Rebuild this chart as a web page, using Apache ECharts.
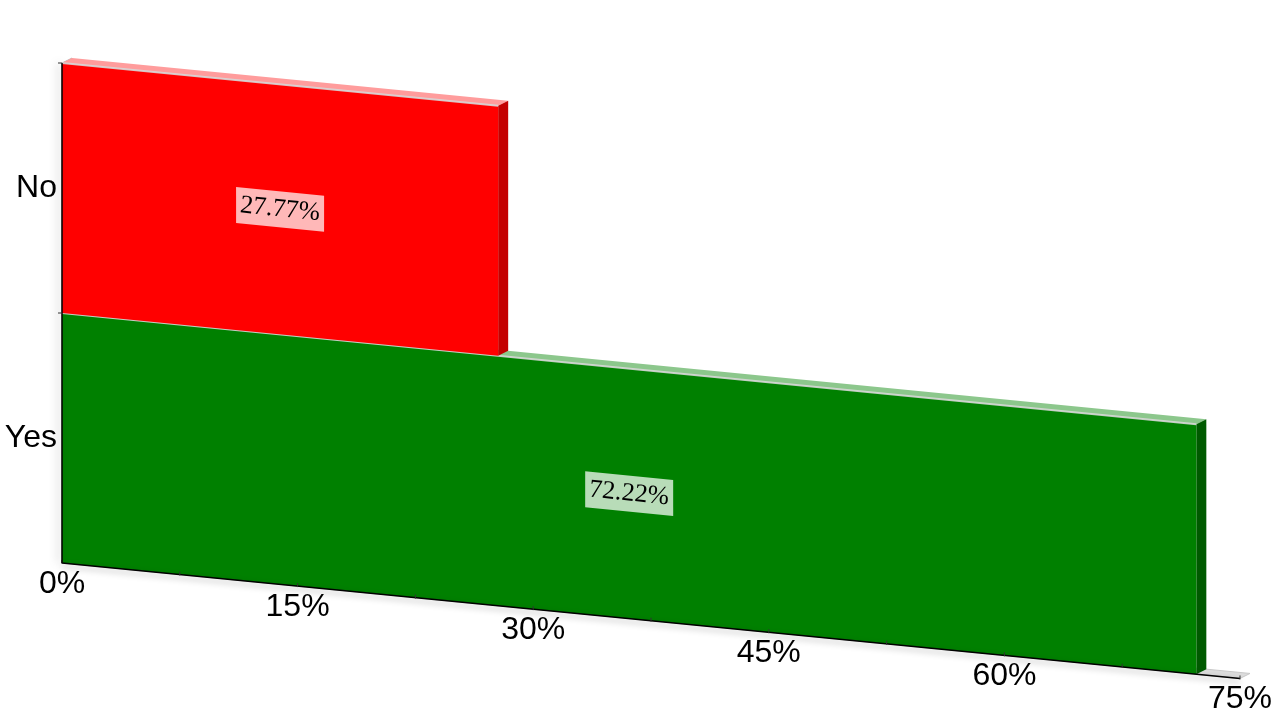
<!DOCTYPE html>
<html>
<head>
<meta charset="utf-8">
<script src="https://cdn.jsdelivr.net/npm/echarts@6/dist/echarts.min.js"></script>
<style>
html,body{margin:0;padding:0;background:#fff;}
#chart{width:1280px;height:720px;}
</style>
</head>
<body>
<div id="chart"></div>
<script>
// ---- data ----
const categories = ['Yes', 'No'];
const values = [72.22, 27.77];
const valueLabels = ['72.22%', '27.77%'];
const ticks = [0, 7.5, 15, 22.5, 30, 37.5, 45, 52.5, 60, 67.5, 75];
const tickLabels = ['0%', '', '15%', '', '30%', '', '45%', '', '60%', '', '75%'];

// ---- styles ----
const frontColors = ['#008000', '#ff0000'];
const sideColors = ['#005a00', '#c40000'];
const topColors = ['#8cc78c', '#ff9c9c'];
const K = 0.098;          // shear (perspective slope)
const DEPTH = [10, -5];    // 3D depth offset
const AXIS_MAX = 75;

function shearFn(X0) { return (x, y) => [x, y + (x - X0) * K]; }
function off(p) { return [p[0] + DEPTH[0], p[1] + DEPTH[1]]; }

function renderBar(params, api) {
  const i = params.dataIndex;
  const v = api.value(0), c = api.value(1);
  const cs = params.coordSys;
  const sh = shearFn(cs.x);
  const p0 = api.coord([0, c]);
  const p1 = api.coord([v, c]);
  const h = api.size([0, 1])[1];
  const yt = p0[1] - h / 2, yb = p0[1] + h / 2;
  const xl = p0[0], xr = p1[0];
  const f = [sh(xl, yt), sh(xr, yt), sh(xr, yb), sh(xl, yb)];
  const top = [f[0], f[1], off(f[1]), off(f[0])];
  const side = [f[1], off(f[1]), off(f[2]), f[2]];
  const cx = (xl + xr) / 2, cy = p0[1];
  const bw = 88, bh = 36;
  const box = [sh(cx - bw / 2, cy - bh / 2), sh(cx + bw / 2, cy - bh / 2), sh(cx + bw / 2, cy + bh / 2), sh(cx - bw / 2, cy + bh / 2)];
  const cc = sh(cx, cy);
  return {
    type: 'group',
    children: [
      { type: 'polygon', shape: { points: top }, style: { fill: topColors[i], stroke: null } },
      { type: 'polygon', shape: { points: side }, style: { fill: sideColors[i], stroke: null } },
      { type: 'polygon', shape: { points: f }, style: { fill: frontColors[i], stroke: null } },
      { type: 'line', shape: { x1: f[0][0], y1: f[0][1], x2: f[1][0], y2: f[1][1] },
        style: { stroke: 'rgba(215,215,215,0.9)', lineWidth: 2 } },
      { type: 'polygon', shape: { points: box }, style: { fill: 'rgba(255,255,255,0.72)', stroke: null } },
      { type: 'text', x: cc[0], y: cc[1], rotation: -Math.atan(K),
        style: { text: valueLabels[i], fill: '#000', font: '26px "Liberation Serif"', align: 'center', verticalAlign: 'middle' } }
    ]
  };
}

function renderFrame(params, api) {
  const cs = params.coordSys;
  const sh = shearFn(cs.x);
  const X0 = api.coord([0, 0])[0];
  const XE = api.coord([AXIS_MAX, 0])[0];
  const T = cs.y, B = cs.y + cs.height;
  const floor = [sh(X0, B), sh(XE, B), off(sh(XE, B)), off(sh(X0, B))];
  const wall = [sh(X0, T), sh(X0, B), off(sh(X0, B)), off(sh(X0, T))];
  return {
    type: 'group',
    children: [
      { type: 'polygon', shape: { points: wall }, style: { fill: '#e4e4e4', stroke: '#bbbbbb', lineWidth: 1 } },
      { type: 'polygon', shape: { points: floor }, style: { fill: '#dcdcdc', stroke: '#c8c8c8', lineWidth: 1 } }
    ]
  };
}

function renderXAxis(params, api) {
  const i = params.dataIndex;
  const cs = params.coordSys;
  const sh = shearFn(cs.x);
  const B = cs.y + cs.height;
  const x = api.coord([api.value(0), 0])[0];
  const p = sh(x, B);
  const children = [
    { type: 'line', shape: { x1: p[0], y1: p[1] - 3, x2: p[0], y2: p[1] + 1 }, style: { stroke: '#333', lineWidth: 1 } }
  ];
  if (i === 0) {
    const XE = api.coord([AXIS_MAX, 0])[0];
    const a = sh(x, B), b = sh(XE, B);
    children.unshift({ type: 'line', shape: { x1: a[0], y1: a[1], x2: b[0], y2: b[1] },
      style: { stroke: '#000', lineWidth: 1.5, shadowBlur: 6, shadowColor: 'rgba(0,0,0,0.4)', shadowOffsetY: 3 } });
  }
  if (tickLabels[i]) {
    children.push({ type: 'text', x: p[0], y: p[1] + 21,
      style: { text: tickLabels[i], fill: '#000', font: '32px "Liberation Sans"', align: 'center', verticalAlign: 'middle' } });
  }
  return { type: 'group', children };
}

function renderYAxis(params, api) {
  const i = params.dataIndex;
  const cs = params.coordSys;
  const c = api.value(1);
  const p = api.coord([0, c]);
  const h = api.size([0, 1])[1];
  const children = [
    { type: 'line', shape: { x1: p[0] - 4, y1: p[1] - h / 2, x2: p[0], y2: p[1] - h / 2 }, style: { stroke: '#333', lineWidth: 1 } },
    { type: 'text', x: p[0] - 5, y: p[1],
      style: { text: categories[i], fill: '#000', font: '32px "Liberation Sans"', align: 'right', verticalAlign: 'middle' } }
  ];
  if (i === 0) {
    children.unshift({ type: 'line', shape: { x1: cs.x, y1: cs.y, x2: cs.x, y2: cs.y + cs.height },
      style: { stroke: '#000', lineWidth: 1.5, shadowBlur: 8, shadowColor: 'rgba(0,0,0,0.35)', shadowOffsetX: -3 } });
  }
  return { type: 'group', children };
}

const chart = echarts.init(document.getElementById('chart'), null, { renderer: 'canvas' });
chart.setOption({
  animation: false,
  backgroundColor: '#fff',
  grid: { left: 62, right: 40, top: 63, bottom: 157, containLabel: false },
  xAxis: { type: 'value', min: 0, max: AXIS_MAX, interval: 7.5, show: false },
  yAxis: { type: 'category', data: categories, show: false },
  series: [
    { type: 'custom', renderItem: renderFrame, data: [[0, 0]], encode: { x: 0, y: 1 }, z: 1, silent: true },
    { type: 'custom', renderItem: renderBar, data: values.map((v, i) => [v, i]), encode: { x: 0, y: 1 }, z: 2, silent: true },
    { type: 'custom', renderItem: renderXAxis, data: ticks.map(t => [t, 0]), encode: { x: 0, y: 1 }, z: 3, silent: true },
    { type: 'custom', renderItem: renderYAxis, data: categories.map((c, i) => [0, i]), encode: { x: 0, y: 1 }, z: 3, silent: true }
  ]
});
</script>
</body>
</html>
